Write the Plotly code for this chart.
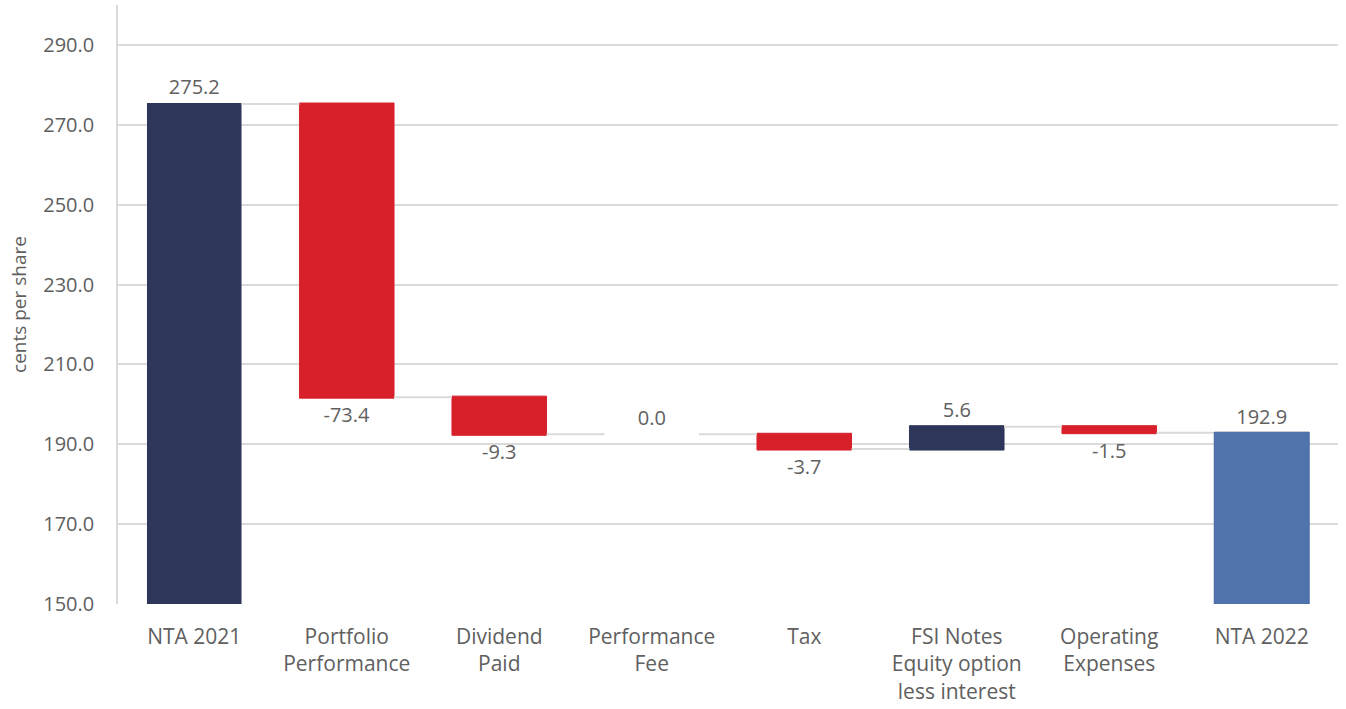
import plotly.graph_objects as go

categories = ["NTA 2021", "Portfolio<br>Performance", "Dividend<br>Paid", "Performance<br>Fee",
              "Tax", "FSI Notes<br>Equity option<br>less interest", "Operating<br>Expenses", "NTA 2022"]
values = [275.2, -73.4, -9.3, 0.0, -3.7, 5.6, -1.5, 192.9]
measures = ["absolute", "relative", "relative", "relative", "relative", "relative", "relative", "total"]
labels = ["275.2", "-73.4", "-9.3", "0.0", "-3.7", "5.6", "-1.5", ""]
y_ticks = [150, 170, 190, 210, 230, 250, 270, 290]

NAVY = "#2E3759"
RED = "#D7202A"
LIGHT = "#5173AD"
GRID = "#DADADA"
TXT = "#606060"
FONT = "Open Sans"

fig = go.Figure()
fig.add_trace(go.Waterfall(
    x=categories, y=values, measure=measures,
    text=labels, textposition="outside",
    textfont=dict(family=FONT, size=20, color=TXT),
    increasing=dict(marker=dict(color=NAVY, line=dict(color=NAVY, width=1))),
    decreasing=dict(marker=dict(color=RED, line=dict(color=RED, width=1))),
    totals=dict(marker=dict(color=NAVY, line=dict(width=0))),
    connector=dict(line=dict(color=GRID, width=2)),
    width=0.62, cliponaxis=False, showlegend=False,
))
fig.add_trace(go.Waterfall(
    x=[categories[-1]], y=[values[-1]], measure=["absolute"],
    text=[f"{values[-1]:.1f}"], textposition="outside",
    textfont=dict(family=FONT, size=20, color=TXT),
    totals=dict(marker=dict(color=LIGHT, line=dict(color=LIGHT, width=1.5))),
    connector=dict(visible=False),
    width=0.62, cliponaxis=False, showlegend=False,
))

fig.update_layout(
    width=1346, height=709,
    waterfallmode="overlay",
    paper_bgcolor="white", plot_bgcolor="white",
    margin=dict(l=118, r=8, t=5, b=105, autoexpand=False),
    font=dict(family=FONT, size=20, color=TXT),
    xaxis=dict(showgrid=False, showline=False, tickfont=dict(size=21, color=TXT),
               ticks="", ticklabelstandoff=18),
    yaxis=dict(range=[150, 300], tickvals=y_ticks, ticktext=[f"{v:.1f}" for v in y_ticks],
               showgrid=True, gridcolor=GRID, gridwidth=1.5,
               showline=True, linecolor=GRID, linewidth=1.5,
               zeroline=False, tickfont=dict(size=20, color=TXT),
               ticks="", ticklabelstandoff=18,
               title=dict(text="cents per share", font=dict(size=19, color=TXT), standoff=12)),
)

fig.write_html("out.html", config={"displayModeBar": False},
               post_script="document.body.style.margin='0';document.body.style.overflow='hidden';")
